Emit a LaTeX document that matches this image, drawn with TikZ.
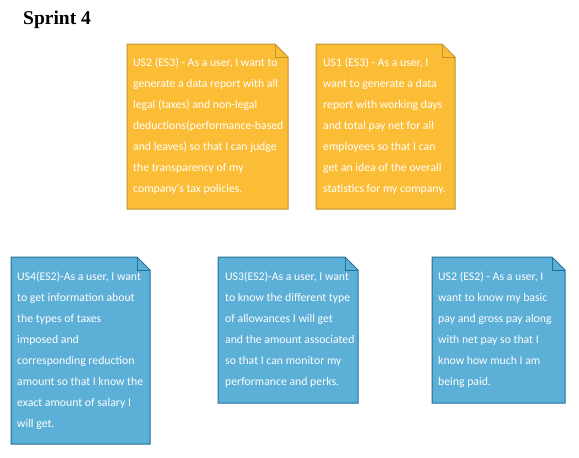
\documentclass[tikz,border=0pt]{standalone}
\usepackage{fontspec}
\setmainfont{Liberation Serif}
\newfontfamily\notefont{Carlito}
\definecolor{yfill}{HTML}{FBBD36}
\definecolor{ydraw}{HTML}{C3922C}
\definecolor{bfill}{HTML}{5CAFD6}
\definecolor{bdraw}{HTML}{22709A}
\tikzset{
  notetext/.style={anchor=base west, inner sep=0pt, align=left, text=white,
    font=\notefont\fontsize{11.75}{21.1}\selectfont},
  ynote/.style={fill=yfill, draw=ydraw, line width=1pt},
  bnote/.style={fill=bfill, draw=bdraw, line width=1pt},
  title/.style={anchor=base west, inner sep=0pt, font=\fontsize{19.5}{22}\selectfont\bfseries}
}
% note: style, left, top, right, bottom, fold
\newcommand{\drawnote}[6]{%
  \path[#1] (#2,#3) -- ({#4-#6},#3) -- (#4,{#3+#6}) -- (#4,#5) -- (#2,#5) -- cycle;
  \draw[#1, fill=none] ({#4-#6},#3) -- ({#4-#6},{#3+#6}) -- (#4,{#3+#6});
}
\begin{document}
\begin{tikzpicture}[x=1pt,y=-1pt]
\useasboundingbox (0,0) rectangle (579,458);
\node[title] (t) at (23,24) {Sprint 4};

% text nodes are anchored at the baseline of their last line
\drawnote{ynote}{127}{44}{288}{209}{13}
\node[notetext] (y1) at (133,192.6) {US2 (ES3) - As a user, I want to\\generate a data report with all\\legal (taxes) and non-legal\\deductions(performance-based\\and leaves) so that I can judge\\the transparency of my\\company's tax policies.};

\drawnote{ynote}{316}{44}{455}{209}{13}
\node[notetext] (y2) at (323,192.6) {US1 (ES3) - As a user, I\\want to generate a data\\report with working days\\and total pay net for all\\employees so that I can\\get an idea of the overall\\statistics for my company.};

\drawnote{bnote}{11}{257}{150}{444}{13}
\node[notetext] (b1) at (17,427.7) {US4(ES2)-As a user, I want\\to get information about\\the types of taxes\\imposed and\\corresponding reduction\\amount so that I know the\\exact amount of salary I\\will get.};

\drawnote{bnote}{218}{257}{358}{403}{13}
\node[notetext] (b2) at (225,385.5) {US3(ES2)-As a user, I want\\to know the different type\\of allowances I will get\\and the amount associated\\so that I can monitor my\\performance and perks.};

\drawnote{bnote}{432}{257}{565}{403}{13}
\node[notetext] (b3) at (438,385.5) {US2 (ES2) - As a user, I\\want to know my basic\\pay and gross pay along\\with net pay so that I\\know how much I am\\being paid.};
\end{tikzpicture}
\end{document}
